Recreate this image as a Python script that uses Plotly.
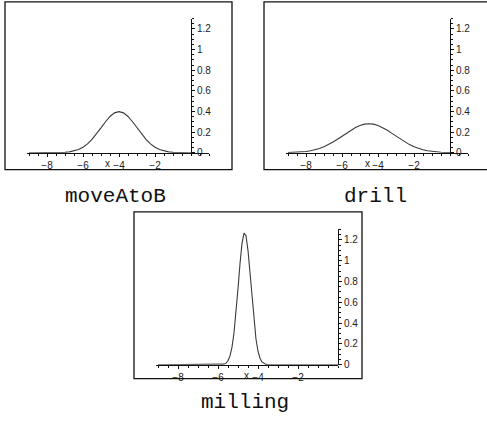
import plotly.graph_objects as go

W, H = 487, 426

# ---- data ----
move_x = [-9.0, -8.75, -8.5, -8.25, -8.0, -7.75, -7.5, -7.25, -7.0, -6.75, -6.5, -6.25,
          -6.0, -5.75, -5.5, -5.25, -5.0, -4.75, -4.5, -4.25, -4.0, -3.75, -3.5, -3.25,
          -3.0, -2.75, -2.5, -2.25, -2.0, -1.75, -1.5, -1.25, -1.0, -0.75, -0.5, -0.25, 0.0]
move_y = [0.0, 0.0, 0.0, 0.0001, 0.0001, 0.0004, 0.0009, 0.002, 0.0044, 0.0091, 0.0175, 0.0317,
          0.054, 0.0863, 0.1295, 0.1826, 0.242, 0.301, 0.352, 0.387, 0.399, 0.387, 0.352, 0.301,
          0.242, 0.1826, 0.1295, 0.0863, 0.054, 0.0317, 0.0175, 0.0091, 0.0044, 0.002, 0.0009, 0.0004, 0.0001]

drill_x = [-9.0, -8.75, -8.5, -8.25, -8.0, -7.75, -7.5, -7.25, -7.0, -6.75, -6.5, -6.25,
           -6.0, -5.75, -5.5, -5.25, -5.0, -4.75, -4.5, -4.25, -4.0, -3.75, -3.5, -3.25,
           -3.0, -2.75, -2.5, -2.25, -2.0, -1.75, -1.5, -1.25, -1.0, -0.75, -0.5, -0.25, 0.0]
drill_y = [0.0018, 0.0031, 0.0052, 0.0084, 0.013, 0.0201, 0.030, 0.0426, 0.059, 0.0796, 0.104, 0.131,
           0.161, 0.191, 0.220, 0.245, 0.265, 0.278, 0.282, 0.278, 0.265, 0.245, 0.220, 0.191,
           0.161, 0.131, 0.104, 0.0796, 0.059, 0.0426, 0.030, 0.0201, 0.013, 0.0084, 0.0052, 0.0031, 0.0018]

mill_x = [-9.0, -6.5, -6.0, -5.9, -5.8, -5.7, -5.6, -5.5, -5.4, -5.3, -5.2, -5.1, -5.0, -4.9,
          -4.8, -4.7, -4.6, -4.5, -4.4, -4.3, -4.2, -4.1, -4.0, -3.9, -3.8, -3.7, -3.6,
          -3.5, -3.4, -3.0, 0.0]
mill_y = [0.0, 0.0, 0.0, 0.0006, 0.002, 0.006, 0.016, 0.039, 0.085, 0.170, 0.306, 0.497, 0.731, 0.971,
          1.166, 1.264, 1.239, 1.097, 0.878, 0.634, 0.414, 0.245, 0.130, 0.063, 0.027, 0.011, 0.004,
          0.0012, 0.0003, 0.0, 0.0]

x_ticks = [-8, -6, -4, -2]
x_tick_text = ["\u22128", "\u22126", "\u22124", "\u22122"]
y_ticks = [0, 0.2, 0.4, 0.6, 0.8, 1.0, 1.2]
y_tick_text = ["0", "0.2", "0.4", "0.6", "0.8", "1", "1.2"]
names = ["moveAtoB", "drill", "milling"]

# ---- layout helpers (pixel geometry) ----
def px_x(p):
    return p / W

def px_y(p):
    return (H - p) / H

panels = [
    dict(x=move_x, y=move_y, xr=[-9.1, 1.0], xdom=[27.2, 209.0], ydom=[155.0, 18.8], yaxpos=191.0,
         box=[5, 2, 232, 172], label=(115.5, 199.5), xlab=107),
    dict(x=drill_x, y=drill_y, xr=[-9.1, 1.0], xdom=[286.2, 468.0], ydom=[155.0, 18.8], yaxpos=450.0,
         box=[264, 2, 500, 172], label=(375, 199.5), xlab=367),
    dict(x=mill_x, y=mill_y, xr=[-9.1, 0.0], xdom=[156.0, 338.0], ydom=[370.0, 232.7], yaxpos=338.0,
         box=[134, 215, 362, 384], label=(244.5, 408), xlab=246),
]

fig = go.Figure()
font_tick = dict(family="Liberation Sans, Arial, sans-serif", size=10, color="#222")
shapes = []
annotations = []
for i, p in enumerate(panels):
    n = "" if i == 0 else str(i + 1)
    fig.add_trace(go.Scatter(x=p["x"], y=p["y"], mode="lines",
                             line=dict(color="#3a3a3a", width=1.1),
                             xaxis="x" + n, yaxis="y" + n, showlegend=False, hoverinfo="skip"))
    fig.layout["xaxis" + n] = dict(
        domain=[px_x(p["xdom"][0]), px_x(p["xdom"][1])], range=p["xr"],
        anchor="y" + n, showline=True, linecolor="#111", linewidth=1,
        showgrid=False, zeroline=False,
        tickvals=x_ticks, ticktext=x_tick_text, ticks="outside", ticklen=3, tickcolor="#111",
        minor=dict(dtick=0.5, ticks="outside", ticklen=2, tickcolor="#111"),
        tickfont=font_tick, fixedrange=True)
    fig.layout["yaxis" + n] = dict(
        domain=[px_y(p["ydom"][0]), px_y(p["ydom"][1])], range=[0, 1.3],
        anchor="free", position=px_x(p["yaxpos"]), side="right",
        showline=True, linecolor="#111", linewidth=1,
        showgrid=False, zeroline=False,
        tickvals=y_ticks, ticktext=y_tick_text, ticks="outside", ticklen=3, tickcolor="#111",
        minor=dict(dtick=0.05, ticks="outside", ticklen=2, tickcolor="#111"),
        tickfont=font_tick, fixedrange=True)
    b = p["box"]
    shapes.append(dict(type="rect", xref="paper", yref="paper",
                       x0=px_x(b[0]), x1=px_x(b[2]), y0=px_y(b[3]), y1=px_y(b[1]),
                       line=dict(color="#111", width=1.3), fillcolor="rgba(0,0,0,0)"))
    annotations.append(dict(text=names[i], xref="paper", yref="paper",
                            x=px_x(p["label"][0]), y=px_y(p["label"][1]),
                            xanchor="center", yanchor="middle", showarrow=False,
                            font=dict(family="Liberation Mono, Courier New, monospace", size=21, color="#111")))
    annotations.append(dict(text="x", xref="paper", yref="paper",
                            x=px_x(p["xlab"]), y=px_y(p["ydom"][0] + 11),
                            xanchor="center", yanchor="middle", showarrow=False,
                            font=font_tick))

fig.update_layout(width=W, height=H, margin=dict(l=0, r=0, t=0, b=0),
                  paper_bgcolor="white", plot_bgcolor="white",
                  shapes=shapes, annotations=annotations)
fig.write_html("out.html", config={"displayModeBar": False},
               post_script="document.body.style.margin='0';document.body.style.overflow='hidden';")
